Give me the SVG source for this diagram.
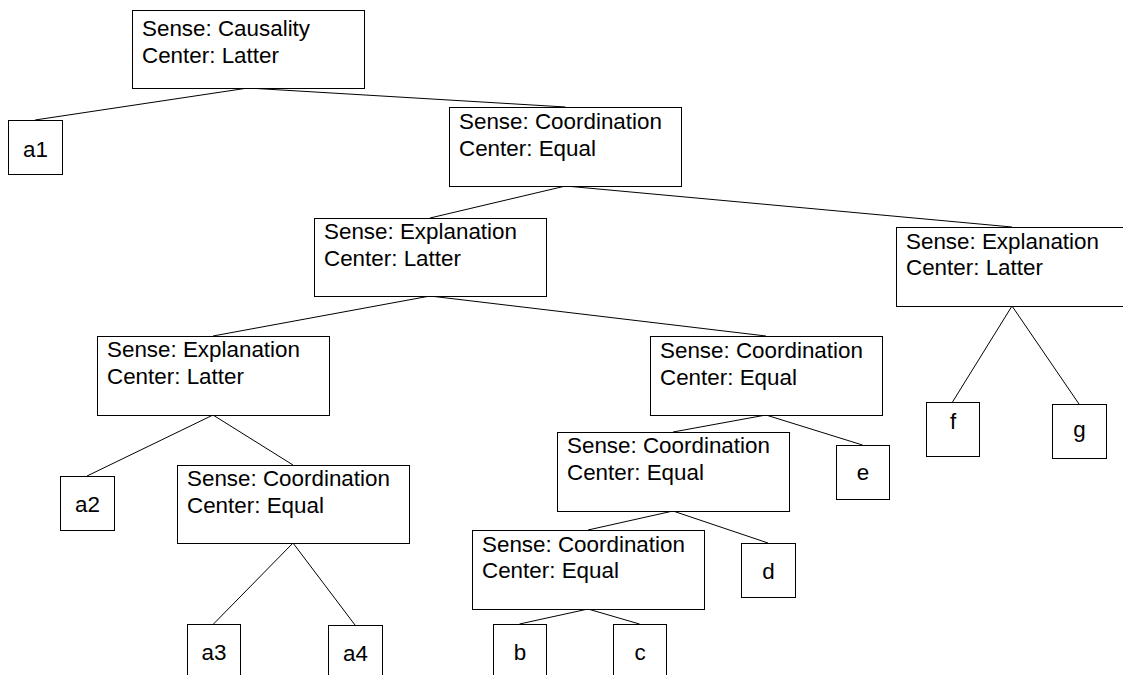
<svg xmlns="http://www.w3.org/2000/svg" width="1123" height="675" viewBox="0 0 1123 675">
<style>
.box{fill:#fff;stroke:#000;stroke-width:1}
.t{font-family:"Liberation Sans",Arial,sans-serif;font-size:22.4px;fill:#000}
.c{text-anchor:middle}
.edges line{stroke:#000;stroke-width:1}
</style>
<rect width="1123" height="675" fill="#fff"/>
<g class="edges" id="connectors">
<line x1="248" y1="88" x2="35" y2="120"/>
<line x1="248" y1="88" x2="565.5" y2="107"/>
<line x1="565.5" y1="186" x2="430" y2="218"/>
<line x1="565.5" y1="186" x2="1012" y2="227"/>
<line x1="1012" y1="306" x2="952.5" y2="402"/>
<line x1="1012" y1="306" x2="1079" y2="404"/>
<line x1="430" y1="296" x2="213" y2="336"/>
<line x1="430" y1="296" x2="766" y2="336"/>
<line x1="213" y1="415" x2="87" y2="476"/>
<line x1="213" y1="415" x2="293" y2="465"/>
<line x1="293" y1="543" x2="213.5" y2="624"/>
<line x1="293" y1="543" x2="355" y2="625"/>
<line x1="766" y1="415" x2="862.5" y2="445"/>
<line x1="766" y1="415" x2="673" y2="432"/>
<line x1="673" y1="511" x2="768" y2="543"/>
<line x1="673" y1="511" x2="588" y2="530"/>
<line x1="588" y1="609" x2="519.5" y2="624"/>
<line x1="588" y1="609" x2="639.5" y2="624"/>
</g>
<g id="root"><rect class="box" x="132.5" y="10.5" width="232" height="78"/><text class="t" x="142" y="36">Sense: Causality</text><text class="t" x="142" y="63">Center: Latter</text></g>
<g id="a1"><rect class="box" x="8.5" y="120.5" width="54" height="54"/><text class="t c" x="35.5" y="157">a1</text></g>
<g id="coord1"><rect class="box" x="449.5" y="107.5" width="232" height="79"/><text class="t" x="459" y="129">Sense: Coordination</text><text class="t" x="459" y="156">Center: Equal</text></g>
<g id="expl1"><rect class="box" x="314.5" y="218.5" width="232" height="78"/><text class="t" x="324" y="239">Sense: Explanation</text><text class="t" x="324" y="266">Center: Latter</text></g>
<g id="expl2"><rect class="box" x="896.5" y="227.5" width="232" height="79"/><text class="t" x="906" y="249">Sense: Explanation</text><text class="t" x="906" y="275">Center: Latter</text></g>
<g id="f"><rect class="box" x="926.5" y="402.5" width="53" height="54"/><text class="t c" x="953" y="429">f</text></g>
<g id="g"><rect class="box" x="1052.5" y="404.5" width="54" height="54"/><text class="t c" x="1079.5" y="437">g</text></g>
<g id="expl3"><rect class="box" x="97.5" y="336.5" width="232" height="79"/><text class="t" x="107" y="357">Sense: Explanation</text><text class="t" x="107" y="384">Center: Latter</text></g>
<g id="a2"><rect class="box" x="60.5" y="476.5" width="54" height="54"/><text class="t c" x="87.5" y="512">a2</text></g>
<g id="coord2"><rect class="box" x="177.5" y="465.5" width="232" height="78"/><text class="t" x="187" y="486">Sense: Coordination</text><text class="t" x="187" y="513">Center: Equal</text></g>
<g id="a3"><rect class="box" x="187.5" y="624.5" width="53" height="54"/><text class="t c" x="214" y="660">a3</text></g>
<g id="a4"><rect class="box" x="328.5" y="625.5" width="54" height="54"/><text class="t c" x="355.5" y="661">a4</text></g>
<g id="coord3"><rect class="box" x="650.5" y="336.5" width="232" height="79"/><text class="t" x="660" y="358">Sense: Coordination</text><text class="t" x="660" y="385">Center: Equal</text></g>
<g id="e"><rect class="box" x="836.5" y="445.5" width="53" height="54"/><text class="t c" x="863" y="480">e</text></g>
<g id="coord4"><rect class="box" x="557.5" y="432.5" width="232" height="79"/><text class="t" x="567" y="453">Sense: Coordination</text><text class="t" x="567" y="480">Center: Equal</text></g>
<g id="d"><rect class="box" x="741.5" y="543.5" width="54" height="54"/><text class="t c" x="768.5" y="579">d</text></g>
<g id="coord5"><rect class="box" x="472.5" y="530.5" width="232" height="79"/><text class="t" x="482" y="552">Sense: Coordination</text><text class="t" x="482" y="578">Center: Equal</text></g>
<g id="b"><rect class="box" x="493.5" y="624.5" width="53" height="54"/><text class="t c" x="520" y="660">b</text></g>
<g id="c"><rect class="box" x="613.5" y="624.5" width="53" height="54"/><text class="t c" x="640" y="660">c</text></g>
</svg>
